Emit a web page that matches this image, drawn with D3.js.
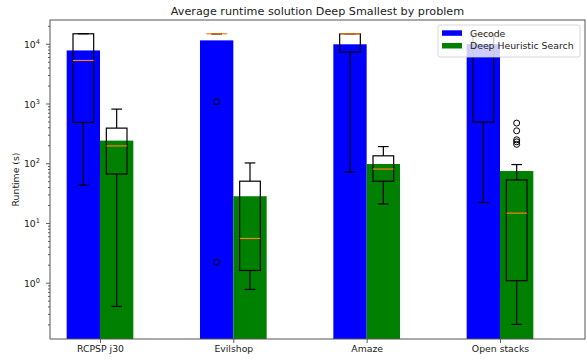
<!DOCTYPE html>
<html>
<head>
<meta charset="utf-8">
<script src="https://cdn.jsdelivr.net/npm/d3@7"></script>
<style>
  body { margin: 0; background: #fff; }
  svg { font-family: "DejaVu Sans", sans-serif; }
</style>
</head>
<body>
<div id="chart"></div>
<script>
// categories and series
const categories = ["RCPSP j30", "Evilshop", "Amaze", "Open stacks"];
const seriesNames = ["Gecode", "Deep Heuristic Search"];
const gecodeMean = [7730, 11400, 9800, 9900];
const dhsMean = [239, 28, 97, 74];

// boxplot stats per category (seconds)
const gecodeLow = [43, 14700, 71, 22];
const gecodeQ1 = [481, 14700, 7260, 488];
const gecodeMedian = [5250, 14700, 14700, 14700];
const gecodeQ3 = [14700, 14700, 14700, 14700];
const gecodeHigh = [14700, 14700, 14700, 14700];
const gecodeOutliers = [[], [1070, 2.2], [], []];

const dhsLow = [0.40, 0.77, 20.8, 0.20];
const dhsQ1 = [66, 1.6, 50, 1.08];
const dhsMedian = [195, 5.5, 80, 14.6];
const dhsQ3 = [387, 50, 133, 52.5];
const dhsHigh = [805, 101, 190, 95];
const dhsOutliers = [[], [], [], [470, 349, 247, 228, 207]];

const yMajor = [1, 10, 100, 1000, 10000];

const width = 587, height = 361;
const margin = {top: 20, right: 2, bottom: 22, left: 50};
const plotW = width - margin.left - margin.right;
const plotH = height - margin.top - margin.bottom;
const colors = ["#0000ff", "#008000"];
const barW = 0.25, boxW = 0.155, capW = 0.08;

const svg = d3.select("#chart").append("svg")
  .attr("width", width).attr("height", height);
const g = svg.append("g")
  .attr("transform", "translate(" + margin.left + "," + margin.top + ")");

const x = d3.scaleLinear().domain([-0.375, 3.6375]).range([0, plotW]);
const y = d3.scaleLog().domain([0.114, 25000]).range([plotH, 0]);

const series = [
  {mean: gecodeMean, low: gecodeLow, q1: gecodeQ1, med: gecodeMedian, q3: gecodeQ3, high: gecodeHigh, out: gecodeOutliers, off: -barW / 2},
  {mean: dhsMean, low: dhsLow, q1: dhsQ1, med: dhsMedian, q3: dhsQ3, high: dhsHigh, out: dhsOutliers, off: barW / 2}
];

// bars
series.forEach((s, si) => {
  g.selectAll(".bar" + si)
    .data(s.mean)
    .enter().append("rect")
    .attr("x", (d, i) => x(i + s.off - barW / 2))
    .attr("width", x(barW) - x(0))
    .attr("y", d => y(d))
    .attr("height", d => plotH - y(d))
    .attr("fill", colors[si]);
});

// boxplots
series.forEach((s, si) => {
  categories.forEach((c, i) => {
    const cx = i + s.off;
    const bg = g.append("g").attr("stroke", "#000").attr("stroke-width", 1.2).attr("fill", "none");
    bg.append("line").attr("x1", x(cx)).attr("x2", x(cx)).attr("y1", y(s.q3[i])).attr("y2", y(s.high[i]));
    bg.append("line").attr("x1", x(cx)).attr("x2", x(cx)).attr("y1", y(s.q1[i])).attr("y2", y(s.low[i]));
    bg.append("line").attr("x1", x(cx - capW / 2 * 1.0)).attr("x2", x(cx + capW / 2 * 1.0)).attr("y1", y(s.high[i])).attr("y2", y(s.high[i]));
    bg.append("line").attr("x1", x(cx - capW / 2)).attr("x2", x(cx + capW / 2)).attr("y1", y(s.low[i])).attr("y2", y(s.low[i]));
    bg.append("rect")
      .attr("x", x(cx - boxW / 2)).attr("width", x(boxW) - x(0))
      .attr("y", y(s.q3[i])).attr("height", y(s.q1[i]) - y(s.q3[i]));
    bg.selectAll("circle").data(s.out[i]).enter().append("circle")
      .attr("cx", x(cx)).attr("cy", d => y(d)).attr("r", 3).attr("stroke-width", 1);
    g.append("line")
      .attr("x1", x(cx - boxW / 2)).attr("x2", x(cx + boxW / 2))
      .attr("y1", y(s.med[i])).attr("y2", y(s.med[i]))
      .attr("stroke", "#ff7f0e").attr("stroke-width", 1.2);
  });
});

// y axis: major + minor ticks
const yAxis = g.append("g")
  .call(d3.axisLeft(y).tickValues(yMajor).tickSize(4).tickFormat(""));
const minors = [];
for (let e = -1; e <= 4; e++) for (let m = 2; m <= 9; m++) {
  const v = m * Math.pow(10, e);
  if (v > 0.114 && v < 25000) minors.push(v);
}
g.append("g").call(d3.axisLeft(y).tickValues(minors).tickSize(2).tickFormat(""));
g.selectAll(".domain").remove();
g.selectAll(".tick line").attr("stroke", "#333").attr("stroke-width", 0.8);

const yl = g.append("g");
yMajor.forEach(v => {
  const t = yl.append("text")
    .attr("x", -10).attr("y", y(v) + 4.2)
    .attr("text-anchor", "end")
    .attr("font-size", 9.3).attr("fill", "#222");
  t.append("tspan").text("10");
  t.append("tspan").attr("font-size", 6.6).attr("dy", -4).text(Math.round(Math.log10(v)));
});

// x axis
g.append("g")
  .attr("transform", "translate(0," + plotH + ")")
  .call(d3.axisBottom(x).tickValues([0, 1, 2, 3]).tickSize(4).tickFormat(i => categories[i]))
  .call(a => a.select(".domain").remove())
  .call(a => a.selectAll(".tick line").attr("stroke", "#333").attr("stroke-width", 0.8))
  .call(a => a.selectAll("text").attr("font-size", 9.3).attr("fill", "#222")
    .attr("font-family", "DejaVu Sans").attr("dy", "0.71em").attr("y", 6));

// frame
g.append("rect")
  .attr("width", plotW).attr("height", plotH)
  .attr("fill", "none").attr("stroke", "#555").attr("stroke-width", 1);

// labels
svg.append("text")
  .attr("x", margin.left + plotW / 2).attr("y", 14.5)
  .attr("text-anchor", "middle").attr("font-size", 11.2).attr("fill", "#222")
  .text("Average runtime solution Deep Smallest by problem");
svg.append("text")
  .attr("transform", "translate(19," + (margin.top + plotH / 2) + ") rotate(-90)")
  .attr("text-anchor", "middle").attr("font-size", 9.3).attr("fill", "#222")
  .text("Runtime (s)");

// legend
const lg = svg.append("g").attr("transform", "translate(438,25)");
lg.append("rect").attr("width", 142).attr("height", 32).attr("rx", 2)
  .attr("fill", "#fff").attr("fill-opacity", 0.8).attr("stroke", "#ccc").attr("stroke-width", 0.8);
seriesNames.forEach((n, i) => {
  lg.append("rect").attr("x", 4).attr("y", 5.3 + i * 12.7).attr("width", 20).attr("height", 5.5)
    .attr("fill", colors[i]);
  lg.append("text").attr("x", 32).attr("y", 11.6 + i * 12.7)
    .attr("font-size", 9.3).attr("fill", "#222").text(n);
});
</script>
</body>
</html>
